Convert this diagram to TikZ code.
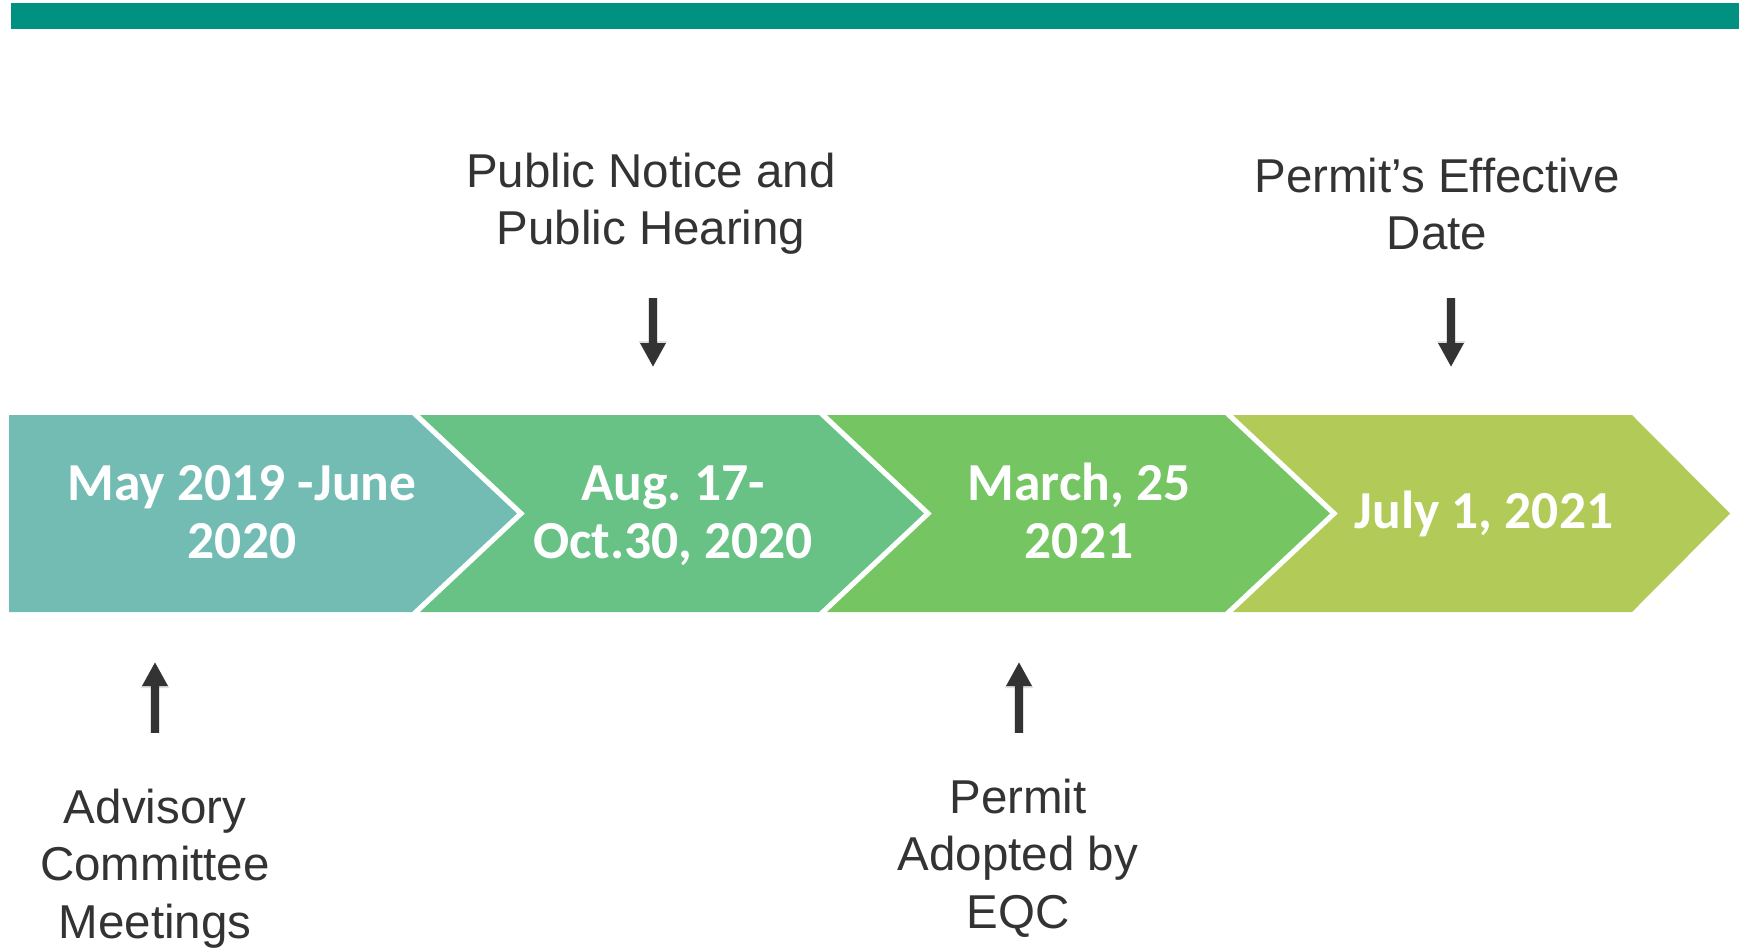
\documentclass[tikz,border=0pt]{standalone}
\usepackage{fontspec}
\setmainfont{Liberation Sans}
\newfontfamily\calibri{Carlito}
\usetikzlibrary{arrows.meta}
\frenchspacing
\definecolor{topbar}{HTML}{009180}
\definecolor{cA}{HTML}{72BCB4}
\definecolor{cB}{HTML}{68C185}
\definecolor{cC}{HTML}{76C563}
\definecolor{cD}{HTML}{B2CB58}
\definecolor{ink}{HTML}{333333}
\tikzset{
  datetext/.style={anchor=base, text=white, inner sep=0pt, font=\calibri\bfseries\fontsize{53.5}{58}\selectfont},
  labeltext/.style={anchor=base, text=ink, inner sep=0pt, font=\fontsize{47.5}{57.5}\selectfont},
  pointer/.style={draw=ink, line width=8pt, -{Triangle[width=24pt,length=24pt]}},
  pointershadow/.style={draw=black, draw opacity=0.12, line width=10pt, -{Triangle[width=27pt,length=26pt]}, shift={(1pt,-3pt)}}
}
\begin{document}
\begin{tikzpicture}[x=1pt,y=-1pt]
\useasboundingbox (0,0) rectangle (1739,948);
\fill[topbar] (11,3) rectangle (1739,29);
% chevrons
\fill[cA] (9,415) -- (412,415) -- (517,513.5) -- (412,612) -- (9,612) -- cycle;
\fill[cB] (420,415) -- (819,415) -- (924,513.5) -- (819,612) -- (420,612) -- (525,513.5) -- cycle;
\fill[cC] (827,415) -- (1225,415) -- (1330,513.5) -- (1225,612) -- (827,612) -- (932,513.5) -- cycle;
\fill[cD] (1233,415) -- (1632,415) -- (1730,513.5) -- (1632,612) -- (1233,612) -- (1338,513.5) -- cycle;
% dates
\node[datetext] (d1) at (242,500) {\begin{tabular}[t]{@{}c@{}}May 2019 -June\\2020\end{tabular}};
\node[datetext] (d2) at (673,500) {\begin{tabular}[t]{@{}c@{}}Aug. 17-\\Oct.30, 2020\end{tabular}};
\node[datetext] (d3) at (1079,500) {\begin{tabular}[t]{@{}c@{}}March, 25\\2021\end{tabular}};
\node[datetext] (d4) at (1484,528) {July 1, 2021};
% labels
\node[labeltext] (l1) at (651,187) {\begin{tabular}[t]{@{}c@{}}Public Notice and\\Public Hearing\end{tabular}};
\node[labeltext] (l2) at (1437,192) {\begin{tabular}[t]{@{}c@{}}Permit’s Effective\\Date\end{tabular}};
\node[labeltext] (l3) at (155,823) {\begin{tabular}[t]{@{}c@{}}Advisory\\Committee\\Meetings\end{tabular}};
\node[labeltext] (l4) at (1018,813) {\begin{tabular}[t]{@{}c@{}}Permit\\Adopted by\\EQC\end{tabular}};
% arrows
\coordinate (a1s) at (653,298); \coordinate (a1e) at (653,367);
\coordinate (a2s) at (1451,298); \coordinate (a2e) at (1451,367);
\coordinate (a3s) at (155,733); \coordinate (a3e) at (155,662);
\coordinate (a4s) at (1019,733); \coordinate (a4e) at (1019,662);
\foreach \s/\e in {a1s/a1e, a2s/a2e, a3s/a3e, a4s/a4e} {
  \draw[pointershadow] (\s) -- (\e);
}
\draw[pointer] (a1s) -- (a1e);
\draw[pointer] (a2s) -- (a2e);
\draw[pointer] (a3s) -- (a3e);
\draw[pointer] (a4s) -- (a4e);
\end{tikzpicture}
\end{document}
